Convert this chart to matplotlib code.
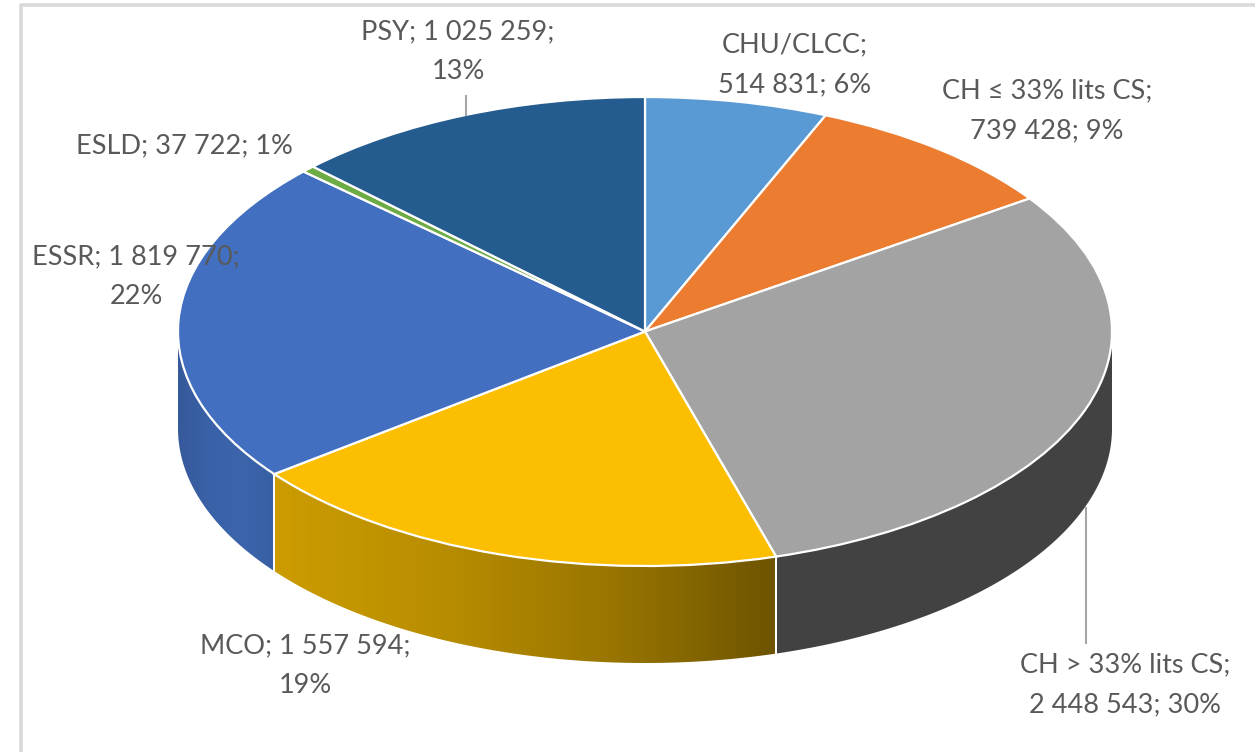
# 3D-looking pie, repartition by category
import numpy as np
import matplotlib
matplotlib.use('Agg')
import matplotlib.pyplot as plt
from matplotlib.patches import Polygon
from matplotlib.lines import Line2D
from matplotlib.colors import LinearSegmentedColormap

W, H = 1255, 752

# Data
categories = ['CHU/CLCC', 'CH ≤ 33% lits CS', 'CH > 33% lits CS', 'MCO', 'ESSR', 'ESLD', 'PSY']
values = [514831, 739428, 2448543, 1557594, 1819770, 37722, 1025259]
top_colors = ['#5A9AD4', '#EB7C30', '#A3A3A3', '#FBBE00', '#426FC0', '#6DAB45', '#255C8F']
label_texts = ['CHU/CLCC;\n514 831; 6%', 'CH ≤ 33% lits CS;\n739 428; 9%', 'CH > 33% lits CS;\n2 448 543; 30%',
               'MCO; 1 557 594;\n19%', 'ESSR; 1 819 770;\n22%', 'ESLD; 37 722; 1%', 'PSY; 1 025 259;\n13%']
label_pos = [(795, 65), (1047, 111), (1125, 685), (305, 666), (136, 277), (184, 146), (458, 52)]

# Geometry in pixels
cx, cy, rx, ry = 645, 331.5, 467, 234.5
depth = 97 / ry

fig = plt.figure(figsize=(W / 100, H / 100), dpi=100)
ax = fig.add_axes([0, 0, 1, 1])
ax.pie(values, colors=top_colors, startangle=90, counterclock=False,
       wedgeprops={'edgecolor': 'white', 'linewidth': 1.6, 'zorder': 3})
ax.set_aspect('auto')
xlim = (-cx / rx, (W - cx) / rx)
ylim = ((cy - H) / ry, cy / ry)


def px(x, y):
    return x / W, 1 - y / H


# Side wall
edges = np.cumsum([0] + values) / sum(values) * 360
wall_stops = {
    2: ['#424242', '#424242'],
    3: ['#CC9C00', '#B88D00', '#9A7600', '#6E5400'],
    4: ['#36599A', '#3A62A8', '#3B64AB', '#385FA3'],
}
for i, stops in wall_stops.items():
    a0, a1 = max(edges[i], 90), min(edges[i + 1], 270)
    t = np.radians(np.linspace(a0, a1, 200))
    xs, ys = np.sin(t), np.cos(t)
    outline = np.vstack([np.c_[xs, ys], np.c_[xs[::-1], ys[::-1] - depth]])
    cmap = LinearSegmentedColormap.from_list('wall', stops)
    x0, x1 = xs.min(), xs.max()
    img = ax.imshow(np.linspace(0, 1, 256)[None, :], cmap=cmap, aspect='auto', zorder=1,
                    extent=(x0, x1, ys.min() - depth, ys.max()))
    clip = Polygon(outline, closed=True, transform=ax.transData, facecolor='none', edgecolor='none')
    ax.add_patch(clip)
    img.set_clip_path(clip)

    # white seam on the wall at the slice boundary
    for a in (a0, a1):
        if 90 < a < 270:
            r = np.radians(a)
            ax.plot([np.sin(r)] * 2, [np.cos(r), np.cos(r) - depth], color='white', lw=1.4, zorder=2)

ax.set_xlim(xlim)
ax.set_ylim(ylim)
ax.axis('off')

# Chart frame, top and left only show in the crop
frame_color = '#D9D9D9'
fig.add_artist(Line2D(*zip(px(21, H), px(21, 5), px(W, 5)), color=frame_color, lw=2.6))

# Leader lines
leader_color = '#A6A6A6'
fig.add_artist(Line2D(*zip(px(466, 96), px(466, 115)), color=leader_color, lw=1.5))
fig.add_artist(Line2D(*zip(px(1086, 508), px(1086, 643)), color=leader_color, lw=1.5))

# Labels
for txt, (x, y) in zip(label_texts, label_pos):
    fx, fy = px(x, y)
    fig.text(fx, fy, txt, ha='center', va='center', family='Lato', fontsize=19.5,
             color='#595959', linespacing=1.73, zorder=5)

fig.savefig('out.png', dpi=100)
